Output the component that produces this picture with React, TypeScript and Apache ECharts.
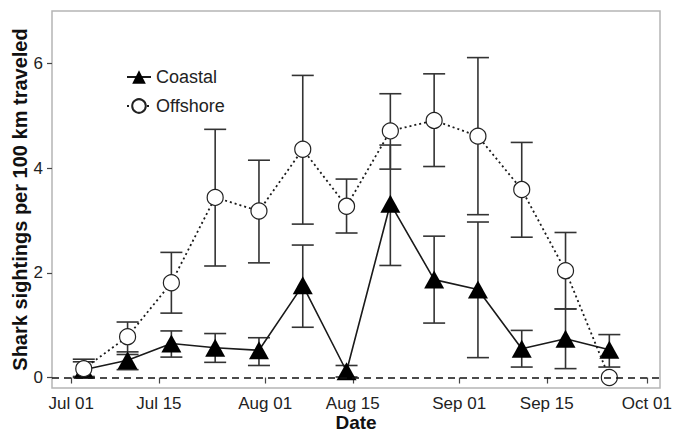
import React, { useEffect, useRef } from "react";
import * as echarts from "echarts";

// Survey dates (weekly)
const dates = [
  "2013-07-03", "2013-07-10", "2013-07-17", "2013-07-24", "2013-07-31",
  "2013-08-07", "2013-08-14", "2013-08-21", "2013-08-28", "2013-09-04",
  "2013-09-11", "2013-09-18", "2013-09-25",
];

// Coastal: mean and error-bar limits
const coastal = [0.15, 0.33, 0.65, 0.57, 0.52, 1.76, 0.12, 3.32, 1.87, 1.68, 0.55, 0.74, 0.53];
const coastalLow = [0.02, 0.15, 0.39, 0.29, 0.23, 0.96, 0.01, 2.14, 1.04, 0.38, 0.2, 0.17, 0.2];
const coastalHigh = [0.3, 0.44, 0.89, 0.84, 0.76, 2.53, 0.23, 4.44, 2.7, 2.97, 0.9, 1.31, 0.82];

// Offshore: mean and error-bar limits
const offshore = [0.17, 0.78, 1.81, 3.44, 3.18, 4.36, 3.27, 4.71, 4.91, 4.61, 3.59, 2.04, 0.0];
const offshoreLow = [0.0, 0.49, 1.23, 2.13, 2.19, 2.93, 2.76, 3.98, 4.03, 3.11, 2.68, 1.31, 0.0];
const offshoreHigh = [0.35, 1.06, 2.39, 4.74, 4.15, 5.77, 3.79, 5.42, 5.8, 6.11, 4.49, 2.77, 0.0];

// Axis ticks
const xTickDates = ["2013-07-01", "2013-07-15", "2013-08-01", "2013-08-15", "2013-09-01", "2013-09-15", "2013-10-01"];
const xTickLabels = ["Jul 01", "Jul 15", "Aug 01", "Aug 15", "Sep 01", "Sep 15", "Oct 01"];
const yTicks = [0, 2, 4, 6];

const DAY = 24 * 3600 * 1000;
const ts = (s: string) => {
  const [y, m, d] = s.split("-").map(Number);
  return Date.UTC(y, m - 1, d);
};

const FONT = "'Liberation Sans', Arial, Helvetica, sans-serif";

function errorSeries(low: number[], high: number[], z: number) {
  return {
    type: "custom",
    z,
    silent: true,
    data: dates.map((d, i) => [ts(d), low[i], high[i]]),
    renderItem: (params: any, api: any) => {
      const x = api.value(0);
      const lo = api.value(1);
      const hi = api.value(2);
      if (hi - lo <= 0) return { type: "group", children: [] };
      const pLo = api.coord([x, lo]);
      const pHi = api.coord([x, hi]);
      const hw = 11;
      const style = { stroke: "#333", lineWidth: 1.6 };
      return {
        type: "group",
        children: [
          { type: "line", shape: { x1: pLo[0], y1: pLo[1], x2: pHi[0], y2: pHi[1] }, style },
          { type: "line", shape: { x1: pLo[0] - hw, y1: pLo[1], x2: pLo[0] + hw, y2: pLo[1] }, style },
          { type: "line", shape: { x1: pHi[0] - hw, y1: pHi[1], x2: pHi[0] + hw, y2: pHi[1] }, style },
        ],
      };
    },
  };
}

export default function App() {
  const ref = useRef<HTMLDivElement>(null);

  useEffect(() => {
    document.body.style.margin = "0";
    const chart = echarts.init(ref.current!, null, { renderer: "svg" });
    const jul1 = ts("2013-07-01");
    const tickVals = xTickDates.map(ts);

    chart.setOption({
      animation: false,
      backgroundColor: "#fff",
      textStyle: { fontFamily: FONT },
      grid: {
        left: 52,
        right: 13,
        top: 11,
        bottom: 47,
        show: true,
        borderColor: "#b5b5b5",
        borderWidth: 1.5,
        outerBoundsMode: "none",
      },
      legend: {
        data: ["Coastal", "Offshore"],
        orient: "vertical",
        left: 121,
        top: 63,
        itemWidth: 24,
        itemHeight: 17,
        itemGap: 11,
        textStyle: { fontSize: 18, color: "#222", fontFamily: FONT },
      },
      xAxis: {
        type: "value",
        min: jul1 - 3.08 * DAY,
        max: jul1 + 94.1 * DAY,
        name: "Date",
        nameLocation: "middle",
        nameGap: 25,
        nameMoveOverlap: false,
        nameTextStyle: { fontSize: 19, lineHeight: 19, fontWeight: "bold", color: "#111", fontFamily: FONT },
        axisLine: { show: false },
        axisTick: { show: true, length: 6, customValues: tickVals, lineStyle: { color: "#444", width: 1.2 } },
        axisLabel: {
          customValues: tickVals,
          fontSize: 17,
          lineHeight: 18,
          color: "#222",
          margin: 6,
          fontFamily: FONT,
          formatter: (v: number) => {
            const idx = tickVals.findIndex((t) => Math.abs(t - v) < DAY / 2);
            return idx >= 0 ? xTickLabels[idx] : "";
          },
        },
        splitLine: { show: false },
      },
      yAxis: {
        type: "value",
        min: -0.2,
        max: 7.0,
        name: "Shark sightings per 100 km traveled",
        nameLocation: "middle",
        nameGap: 22,
        nameMoveOverlap: false,
        nameTextStyle: { fontSize: 20, fontWeight: "bold", color: "#111", fontFamily: FONT },
        axisLine: { show: false },
        axisTick: { show: true, length: 5, customValues: yTicks, lineStyle: { color: "#444", width: 1.2 } },
        axisLabel: {
          customValues: yTicks,
          fontSize: 17,
          color: "#222",
          margin: 9,
          fontFamily: FONT,
        },
        splitLine: { show: false },
      },
      series: [
        errorSeries(coastalLow, coastalHigh, 1),
        errorSeries(offshoreLow, offshoreHigh, 1),
        {
          name: "Coastal",
          type: "line",
          z: 3,
          data: dates.map((d, i) => [ts(d), coastal[i]]),
          symbol: "triangle",
          symbolSize: [20, 18],
          itemStyle: { color: "#000" },
          lineStyle: { color: "#1a1a1a", width: 1.6 },
          markLine: {
            silent: true,
            symbol: ["none", "none"],
            label: { show: false },
            lineStyle: { color: "#111", type: [7, 5], width: 1.6 },
            data: [{ yAxis: 0 }],
          },
        },
        {
          name: "Offshore",
          type: "line",
          z: 4,
          data: dates.map((d, i) => [ts(d), offshore[i]]),
          symbol: "circle",
          symbolSize: 16,
          itemStyle: { color: "#fff", borderColor: "#222", borderWidth: 1.2 },
          lineStyle: { color: "#1a1a1a", width: 1.8, type: [2, 3] },
        },
      ],
    });
    return () => chart.dispose();
  }, []);

  return <div ref={ref} style={{ width: 673, height: 435 }} />;
}
